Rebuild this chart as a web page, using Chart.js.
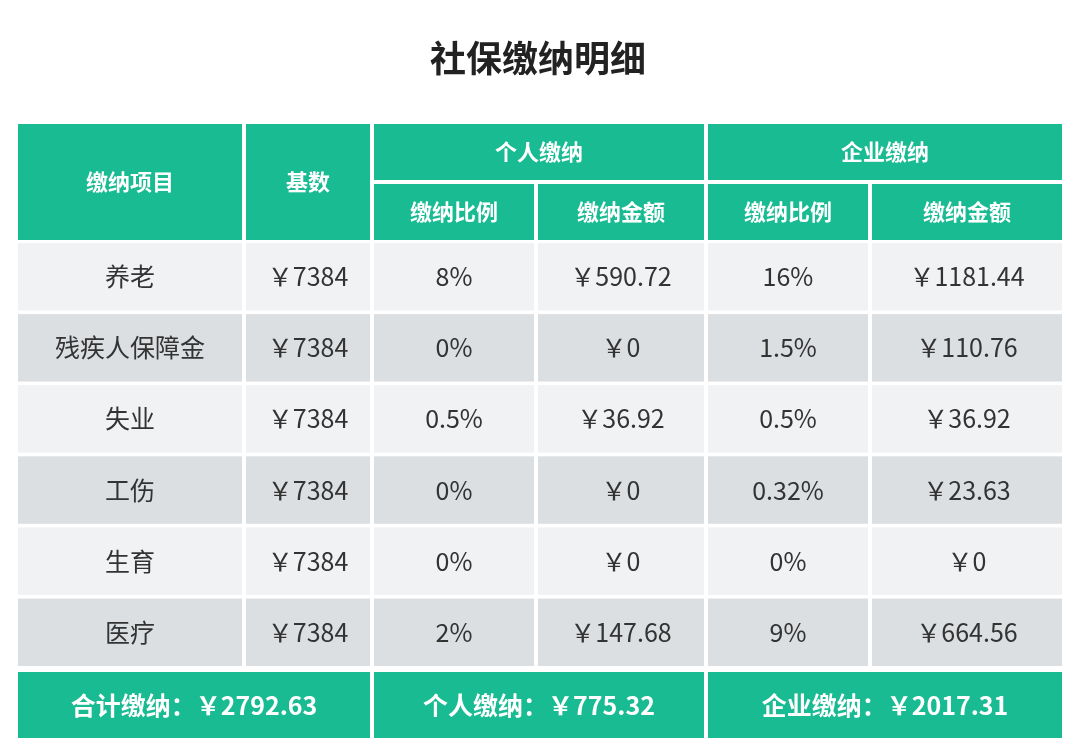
<!DOCTYPE html>
<html>
<head>
<meta charset="utf-8">
<script src="https://cdn.jsdelivr.net/npm/chart.js@4"></script>
<style>
  body { margin: 0; background: #fff; }
  #wrap { width: 1076px; height: 754px; }
</style>
</head>
<body>
<div id="wrap"><canvas id="c"></canvas></div>
<script>
const title = "社保缴纳明细"
const items = ["养老", "残疾人保障金", "失业", "工伤", "生育", "医疗"]
const bases = ["￥7384", "￥7384", "￥7384", "￥7384", "￥7384", "￥7384"]
const personalRates = ["8%", "0%", "0.5%", "0%", "0%", "2%"]
const personalAmounts = ["￥590.72", "￥0", "￥36.92", "￥0", "￥0", "￥147.68"]
const companyRates = ["16%", "1.5%", "0.5%", "0.32%", "0%", "9%"]
const companyAmounts = ["￥1181.44", "￥110.76", "￥36.92", "￥23.63", "￥0", "￥664.56"]
const totals = ["合计缴纳：￥2792.63", "个人缴纳：￥775.32", "企业缴纳：￥2017.31"]

// layout (canvas units, mapped through the chart scales)
const colEdges = [[18, 242], [246, 370], [374, 534], [538, 704], [708, 868], [872, 1062]]
const headTop = [124, 180], headSub = [184, 240]
const rowTop = 243, rowH = 67.5, rowGap = 3.6
const footer = [672, 738]
const footCols = [[18, 370], [374, 704], [708, 1062]]
const green = "#19bb92"
const font = '"Noto Sans CJK SC", "Noto Sans", sans-serif'

const tablePlugin = {
  id: "table",
  afterDraw(chart) {
    const { ctx, scales: { x, y } } = chart
    const rect = (x0, x1, y0, y1, color) => {
      ctx.fillStyle = color
      const px = x.getPixelForValue(x0), py = y.getPixelForValue(y0)
      ctx.fillRect(px, py, x.getPixelForValue(x1) - px, y.getPixelForValue(y1) - py)
    }
    const text = (s, x0, x1, y0, y1, color, f) => {
      ctx.fillStyle = color
      ctx.font = f
      ctx.textAlign = "center"
      ctx.textBaseline = "middle"
      ctx.fillText(s, x.getPixelForValue((x0 + x1) / 2), y.getPixelForValue((y0 + y1) / 2))
    }
    ctx.save()
    text(title, 0, 1076, 38, 78, "#222", "bold 36px " + font)

    const hf = "bold 22px " + font
    // header
    rect(colEdges[0][0], colEdges[0][1], headTop[0], headSub[1], green)
    text("缴纳项目", colEdges[0][0], colEdges[0][1], headTop[0], headSub[1], "#fff", hf)
    rect(colEdges[1][0], colEdges[1][1], headTop[0], headSub[1], green)
    text("基数", colEdges[1][0], colEdges[1][1], headTop[0], headSub[1], "#fff", hf)
    rect(colEdges[2][0], colEdges[3][1], headTop[0], headTop[1], green)
    text("个人缴纳", colEdges[2][0], colEdges[3][1], headTop[0], headTop[1], "#fff", hf)
    rect(colEdges[4][0], colEdges[5][1], headTop[0], headTop[1], green)
    text("企业缴纳", colEdges[4][0], colEdges[5][1], headTop[0], headTop[1], "#fff", hf)
    const subs = ["缴纳比例", "缴纳金额", "缴纳比例", "缴纳金额"]
    subs.forEach((s, i) => {
      const c = colEdges[i + 2]
      rect(c[0], c[1], headSub[0], headSub[1], green)
      text(s, c[0], c[1], headSub[0], headSub[1], "#fff", hf)
    })

    // body
    const cols = [items, bases, personalRates, personalAmounts, companyRates, companyAmounts]
    items.forEach((_, r) => {
      const y0 = rowTop + r * (rowH + rowGap), y1 = y0 + rowH
      const bg = r % 2 === 0 ? "#f1f2f4" : "#dcdfe2"
      cols.forEach((col, i) => {
        const c = colEdges[i]
        rect(c[0], c[1], y0, y1, bg)
        text(col[r], c[0], c[1], y0, y1, "#333", "25px " + font)
      })
    })

    // footer
    totals.forEach((s, i) => {
      const c = footCols[i]
      rect(c[0], c[1], footer[0], footer[1], green)
      text(s, c[0], c[1], footer[0], footer[1], "#fff", "bold 25px " + font)
    })
    ctx.restore()
  },
}

new Chart(document.getElementById("c"), {
  type: "scatter",
  data: { datasets: [{ data: [] }] },
  options: {
    responsive: true,
    maintainAspectRatio: false,
    animation: false,
    layout: { padding: 0 },
    scales: {
      x: { type: "linear", min: 0, max: 1076, display: false },
      y: { type: "linear", min: 0, max: 754, reverse: true, display: false },
    },
    plugins: { legend: { display: false }, tooltip: { enabled: false } },
  },
  plugins: [tablePlugin],
})
</script>
</body>
</html>
